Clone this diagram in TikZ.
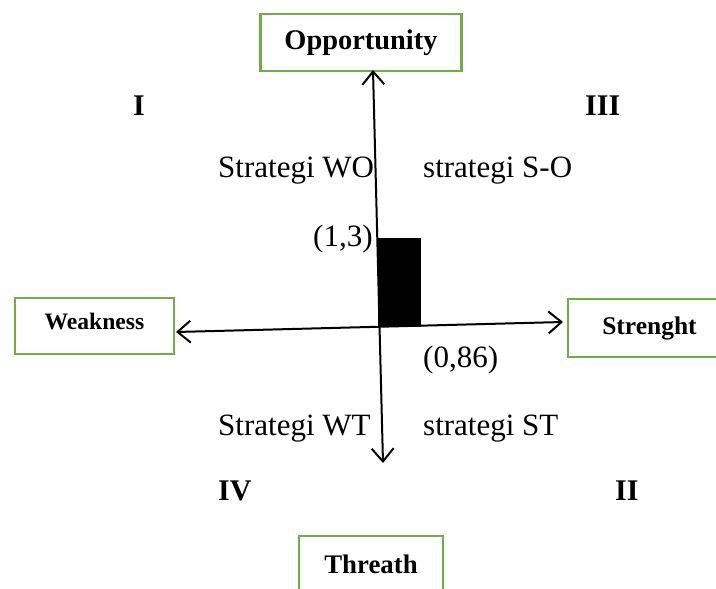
\documentclass[tikz,border=0pt]{standalone}
\usepackage{fontspec}
\setmainfont{Liberation Serif}
\usetikzlibrary{arrows.meta}
\definecolor{boxgreen}{RGB}{112,173,71}
\tikzset{
  box/.style={draw=boxgreen,line width=2.5pt,inner sep=0pt,font=\bfseries},
  axis/.style={line width=2pt,{Straight Barb[length=13pt,width=22pt]}-{Straight Barb[length=13pt,width=22pt]}},
  lbl/.style={anchor=base west,inner sep=0pt,font=\fontsize{31}{36}\selectfont},
  quad/.style={anchor=base west,inner sep=0pt,font=\fontsize{30}{36}\selectfont\bfseries}
}
\begin{document}
\begin{tikzpicture}[x=1pt,y=-1pt]

\useasboundingbox (0,0) rectangle (716,589);
\clip (0,0) rectangle (716,589);

% the four boxes
\node[box,minimum width=201pt,minimum height=57pt,font=\fontsize{28.4}{34}\selectfont\bfseries] (opp) at (361,42.5) {Opportunity};
\node[box,minimum width=159pt,minimum height=56pt,font=\fontsize{23.6}{28}\selectfont\bfseries,text depth=10pt] (weak) at (94.5,326) {Weakness};
\node[box,minimum width=163pt,minimum height=58pt,font=\fontsize{25.5}{30}\selectfont\bfseries] (str) at (649.5,328) {Strenght};
\node[box,minimum width=144pt,minimum height=56pt,font=\fontsize{26.8}{32}\selectfont\bfseries] (thr) at (371,564) {Threath};

% axes
\coordinate (top) at (373,70);
\coordinate (bot) at (383,463);
\coordinate (left) at (176,332);
\coordinate (right) at (563,322);
\draw[axis] (top) -- (bot);
\draw[axis] (left) -- (right);

% the point
\fill (378,238) rectangle (421,327);
\node[lbl] (p13) at (313,246) {(1,3)};
\node[lbl] (p086) at (423,367) {(0,86)};

% strategies
\node[lbl] (wo) at (218,177) {Strategi WO};
\node[lbl] (so) at (423,177) {strategi S-O};
\node[lbl] (wt) at (218,435) {Strategi WT};
\node[lbl] (st) at (423,435) {strategi ST};

% quadrants
\node[quad] (q1) at (133,115) {I};
\node[quad] (q3) at (585,115) {III};
\node[quad] (q4) at (218,500) {IV};
\node[quad] (q2) at (615,500) {II};

\end{tikzpicture}
\end{document}
